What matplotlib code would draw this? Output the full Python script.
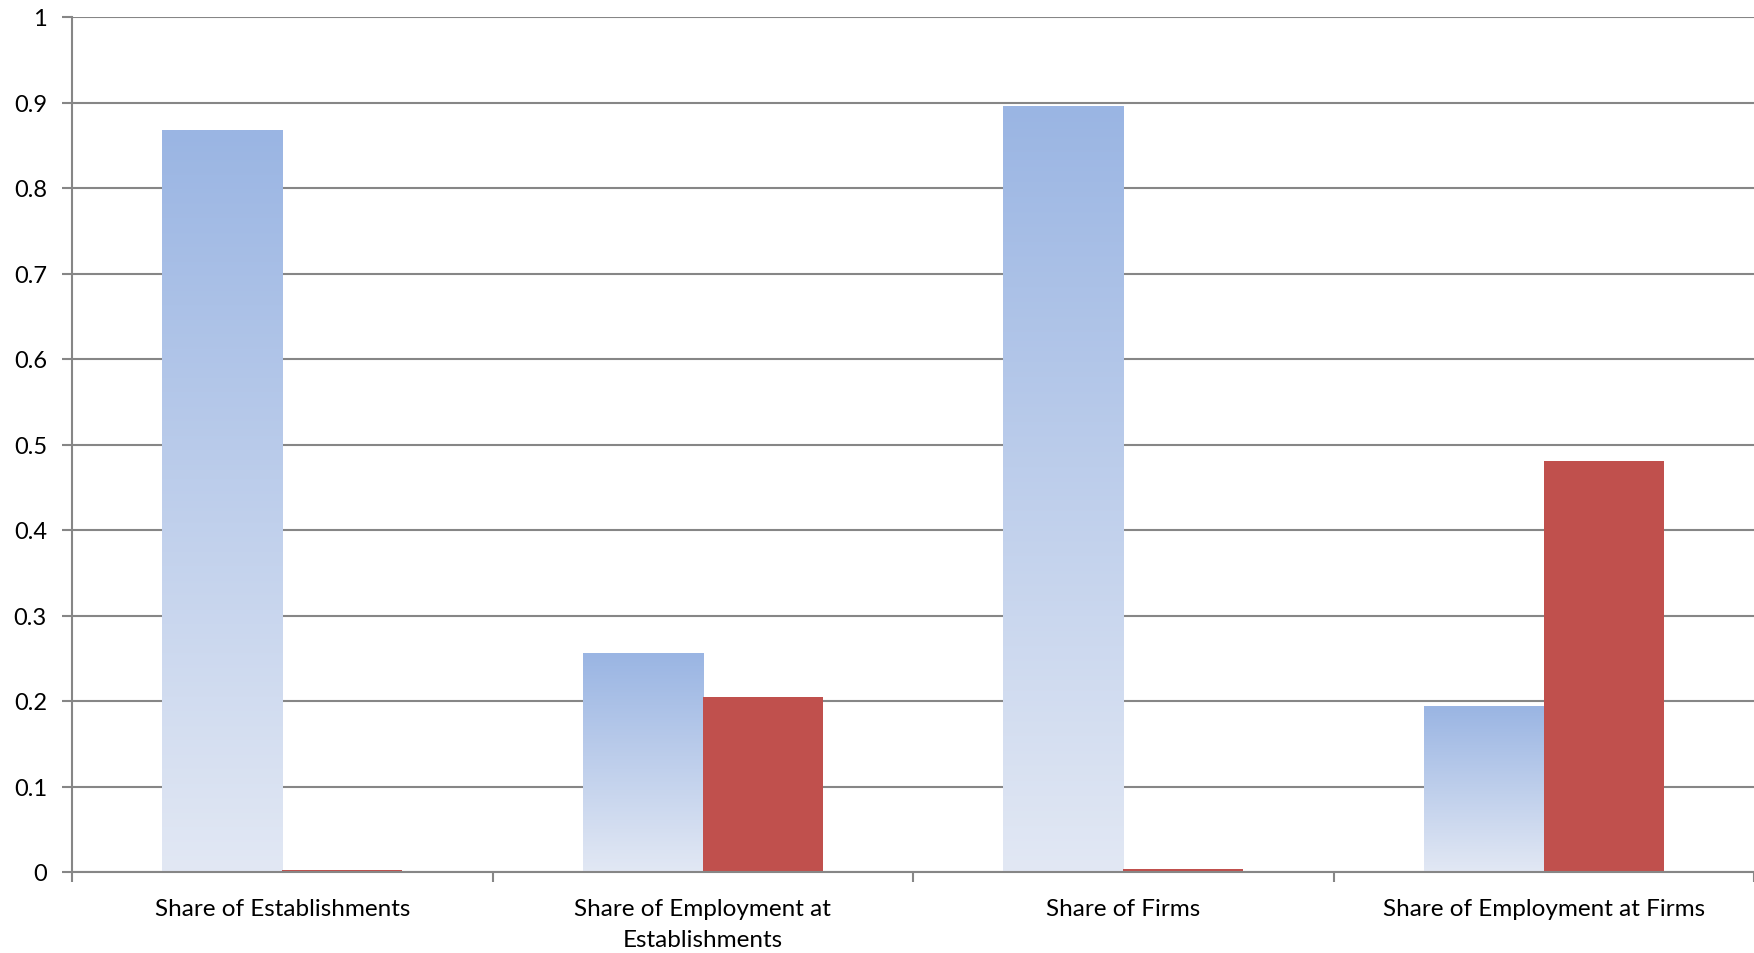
import numpy as np
import matplotlib
matplotlib.use('Agg')
from matplotlib import pyplot as plt
from matplotlib.colors import LinearSegmentedColormap

categories = ['Share of Establishments', 'Share of Employment at\nEstablishments',
              'Share of Firms', 'Share of Employment at Firms']
blue_vals = [0.867, 0.256, 0.895, 0.193]
red_vals = [0.002, 0.205, 0.003, 0.481]
yticks = [0, 0.1, 0.2, 0.3, 0.4, 0.5, 0.6, 0.7, 0.8, 0.9, 1]
ytick_labels = ['0', '0.1', '0.2', '0.3', '0.4', '0.5', '0.6', '0.7', '0.8', '0.9', '1']

plt.rcParams['font.family'] = ['Lato', 'DejaVu Sans']

fig = plt.figure(figsize=(17.54, 9.54), dpi=100)
ax = fig.add_axes([72/1754, 81/954, 1 - 72/1754, 855/954])

grid_col = '#868686'
width = 1/3.5
x = np.arange(len(categories))

# vertical gradient for the blue bars, light at the base, darker at the top
cmap = LinearSegmentedColormap.from_list('bluegrad', ['#E2E8F4', '#9AB5E3'])
grad = np.linspace(0, 1, 256).reshape(-1, 1)
for i, v in enumerate(blue_vals):
    x0 = x[i] - width
    ax.imshow(grad, cmap=cmap, origin='lower', aspect='auto',
              extent=(x0, x0 + width, 0, v), zorder=3, interpolation='bilinear')

ax.bar(x + width/2, red_vals, width=width, color='#C0504D', zorder=3)

ax.set_xlim(-0.5, len(categories) - 0.5)
ax.set_ylim(0, 1)
ax.set_yticks(yticks)
ax.set_yticklabels(ytick_labels)
ax.yaxis.grid(True, color=grid_col, linewidth=1.5, zorder=0)

ax.set_xticks(np.arange(len(categories) + 1) - 0.5)
ax.set_xticklabels([])
ax.set_xticks(x, minor=True)
ax.set_xticklabels(categories, minor=True, fontsize=17.5, linespacing=1.55)
ax.tick_params(axis='x', which='minor', length=0, pad=19)
ax.tick_params(axis='x', which='major', length=7, width=1.5, color=grid_col)
ax.tick_params(axis='y', length=7, width=1.5, color=grid_col, labelsize=17, pad=11)

for s in ['top', 'right']:
    ax.spines[s].set_visible(False)
for s in ['left', 'bottom']:
    ax.spines[s].set_color(grid_col)
    ax.spines[s].set_linewidth(1.5)
    ax.spines[s].set_zorder(4)

fig.savefig('out.png', dpi=100)
